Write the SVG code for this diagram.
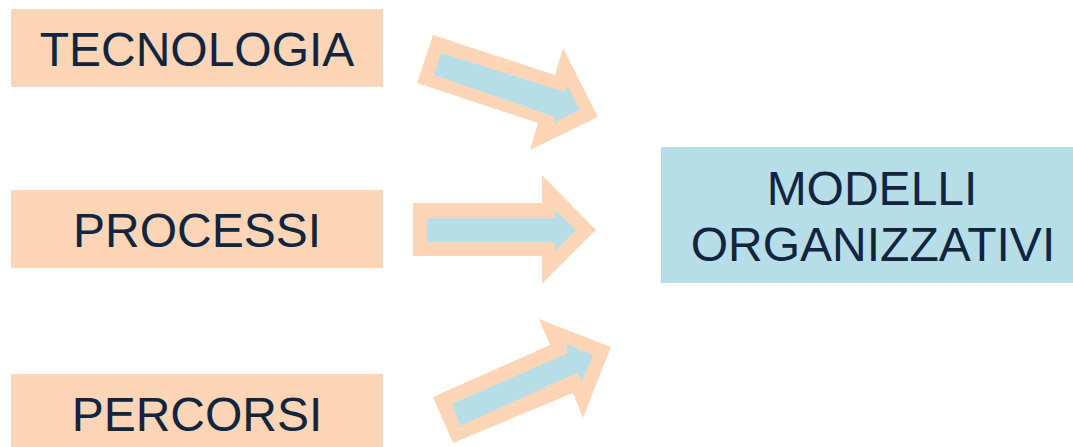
<svg xmlns="http://www.w3.org/2000/svg" width="1073" height="447" viewBox="0 0 1073 447">
<style>
.src{fill:#FBD5B5}
.dst{fill:#B7DEE8}
.lbl{font-family:"Liberation Sans",Arial,sans-serif;font-size:48px;fill:#11253F;text-anchor:middle}
.ao{fill:#FBD5B5}
.ai{fill:#B7DEE8}
</style>
<rect width="1073" height="447" fill="#FFFFFF"/>
<g id="tecnologia">
<rect class="src" x="11" y="9" width="372" height="78"/>
<text class="lbl" x="197" y="66">TECNOLOGIA</text>
</g>
<g id="processi">
<rect class="src" x="11" y="190" width="372" height="78"/>
<text class="lbl" x="197" y="247">PROCESSI</text>
</g>
<g id="percorsi">
<rect class="src" x="11" y="374" width="372" height="80"/>
<text class="lbl" x="197" y="431">PERCORSI</text>
</g>
<g id="modelli">
<rect class="dst" x="661" y="147" width="420" height="136"/>
<text class="lbl" x="872" y="205">MODELLI</text>
<text class="lbl" x="873" y="261">ORGANIZZATIVI</text>
</g>
<g id="connectors">
<polygon class="ao" points="433,35 555,75 563,48 598,117 530,150 538,123 417,83"/>
<polygon class="ai" points="441,53 565,92 567,85 580,110 553,123 555,117 434,75"/>
<polygon class="ao" points="413,203 542,203 542,175 596,230 542,284 542,256 413,256"/>
<polygon class="ai" points="427,218 555,218 555,210 576,230 555,251 555,242 427,242"/>
<polygon class="ao" points="433,397 550,345 539,319 611,347 583,418 573,393 453,443"/>
<polygon class="ai" points="452,404 568,353 566,344 593,355 582,381 577,373 460,426"/>
</g>
</svg>
